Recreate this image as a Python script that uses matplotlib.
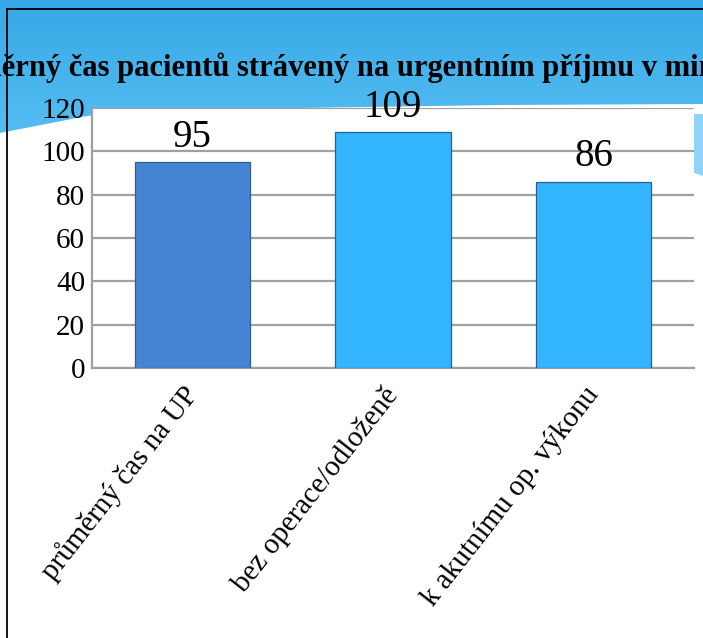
import numpy as np
import matplotlib
matplotlib.use("Agg")
import matplotlib.pyplot as plt
from matplotlib.patches import Polygon

categories = ["průměrný čas na UP", "bez operace/odloženě", "k akutnímu op. výkonu"]
values = [95, 109, 86]
bar_colors = ["#4584D3", "#33B5FF", "#33B5FF"]
yticks = [0, 20, 40, 60, 80, 100, 120]
title = "Průměrný čas pacientů strávený na urgentním příjmu v minutách"

W, H = 703, 638
fig = plt.figure(figsize=(W / 100, H / 100), dpi=100)
fig.patch.set_facecolor("white")

# background (slide) in pixel coordinates
bg = fig.add_axes([0, 0, 1, 1], zorder=0)
bg.set_xlim(0, W)
bg.set_ylim(H, 0)
bg.axis("off")

# wave shape of the blue header
xs = np.array([0, 92, 300, 500, 703])
ys = np.array([133, 115, 108, 105, 104])
wave_x = np.linspace(0, W, 60)
wave_y = np.interp(wave_x, xs, ys)
verts = [(0, 0), (W, 0)] + [(x, y) for x, y in zip(wave_x[::-1], wave_y[::-1])] + [(0, 0)]
clip = Polygon(verts, closed=True, transform=bg.transData, facecolor="none", edgecolor="none")
bg.add_patch(clip)
grad = np.linspace(0, 1, 256).reshape(-1, 1)
cmap = matplotlib.colors.LinearSegmentedColormap.from_list("g", ["#36A8E5", "#56BEF3"])
im = bg.imshow(grad, extent=[0, W, 140, 0], cmap=cmap, aspect="auto", zorder=1)
im.set_clip_path(clip)

# light blue secondary wave on the right
lb_x = np.linspace(560, W, 30)
lb_top = np.interp(lb_x, [560, 703], [118, 114])
lb_bot = np.interp(lb_x, [560, 650, 703], [135, 158, 176])
lb = list(zip(lb_x, lb_top)) + list(zip(lb_x[::-1], lb_bot[::-1]))
bg.add_patch(Polygon(lb, closed=True, facecolor="#8ED3F8", edgecolor="none", zorder=1))

# black frame lines
bg.plot([6.5, W], [8.5, 8.5], color="black", lw=1.3, zorder=2)
bg.plot([6.5, 6.5], [8.5, H], color="black", lw=1.3, zorder=2)

# title
fig.text(358 / W, 1 - 76 / H, title, ha="center", va="baseline",
         fontsize=22, fontweight="bold", family="Liberation Serif", color="black", zorder=5)

# main plot
ax = fig.add_axes([92 / W, 1 - 368 / H, 602 / W, 260 / H], zorder=3)
ax.set_facecolor("white")
x = np.arange(len(categories))
bars = ax.bar(x, values, width=0.575, color=bar_colors, edgecolor="#2B5F92", linewidth=0.9, zorder=3)
ax.set_xlim(-0.5, 2.5)
ax.set_ylim(0, 120)
ax.set_yticks(yticks)
ax.set_yticklabels([str(t) for t in yticks], family="Liberation Serif", fontsize=21)
ax.yaxis.grid(True, color="#A0A0A0", linewidth=1.6, zorder=0)
ax.set_axisbelow(True)
ax.tick_params(axis="both", length=0)
ax.tick_params(axis="y", pad=5)
ax.tick_params(axis="x", pad=16)
for s in ["top", "right"]:
    ax.spines[s].set_visible(False)
for s in ["left", "bottom"]:
    ax.spines[s].set_color("#A0A0A0")
    ax.spines[s].set_linewidth(1.6)
ax.set_xticks(x)
ax.set_xticklabels(categories, rotation=52, ha="right", va="center", rotation_mode="anchor",
                   family="Liberation Serif", fontsize=21)

for b, v in zip(bars, values):
    ax.annotate(str(v), (b.get_x() + b.get_width() / 2, v), xytext=(0, 11),
                textcoords="offset points", ha="center", va="baseline",
                family="Liberation Serif", fontsize=28, color="black", annotation_clip=False)

fig.savefig("out.png", dpi=100, facecolor=fig.get_facecolor())
